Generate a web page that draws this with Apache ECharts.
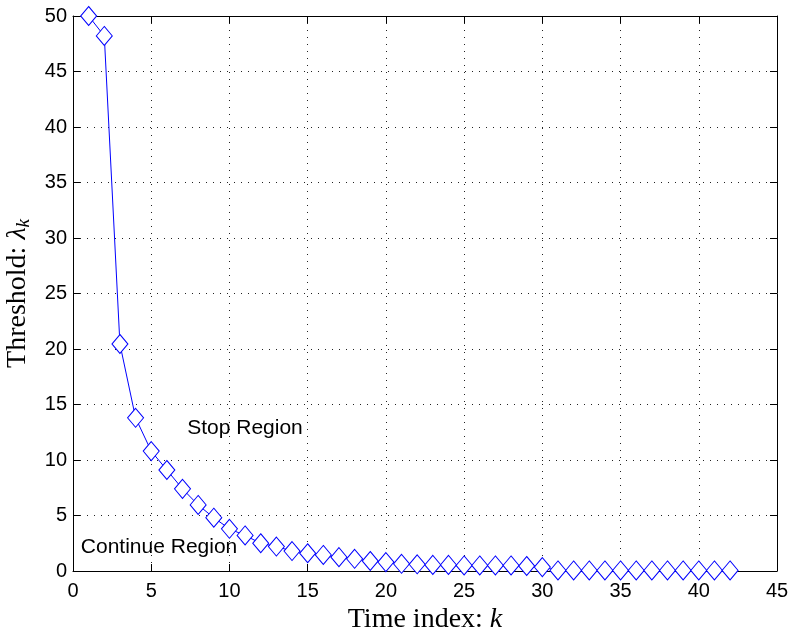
<!DOCTYPE html>
<html>
<head>
<meta charset="utf-8">
<script src="https://cdn.jsdelivr.net/npm/echarts@6/dist/echarts.min.js"></script>
<style>html,body{margin:0;padding:0;background:#fff;}#c{width:789px;height:628px;}</style>
</head>
<body>
<div id="c"></div>
<script>
var kValues = [1,2,3,4,5,6,7,8,9,10,11,12,13,14,15,16,17,18,19,20,21,22,23,24,25,26,27,28,29,30,31,32,33,34,35,36,37,38,39,40,41,42];
var thresholdValues = [50,48.2,20.45,13.8,10.8,9.1,7.4,5.95,4.8,3.8,3.2,2.5,2.2,1.8,1.6,1.45,1.25,1.1,0.9,0.8,0.65,0.6,0.55,0.55,0.5,0.5,0.5,0.5,0.45,0.35,0.05,0.05,0.05,0.05,0.05,0.05,0.05,0.05,0.05,0.05,0.05,0.05];
var xTicks = [0,5,10,15,20,25,30,35,40,45];
var yTicks = [0,5,10,15,20,25,30,35,40,45,50];
var annotations = [
  {text: 'Stop Region', x: 7.3, y: 12.9},
  {text: 'Continue Region', x: 0.5, y: 2.15}
];

var chart = echarts.init(document.getElementById('c'), null, {renderer: 'canvas'});
var tickFont = {fontFamily: 'Liberation Sans', fontSize: 20, color: '#000'};
var serif = 'Liberation Serif';
var points = kValues.map(function (k, i) { return [k, thresholdValues[i]]; });

var option = {
  animation: false,
  backgroundColor: '#fff',
  grid: {left: 73, right: 12, top: 16, bottom: 57, containLabel: false, outerBoundsMode: 'none'},
  xAxis: [{
    type: 'value', min: xTicks[0], max: xTicks[xTicks.length - 1], interval: 5,
    position: 'bottom',
    axisLine: {show: true, onZero: false, lineStyle: {color: '#000', width: 1}},
    axisTick: {show: true, inside: true, length: 7, lineStyle: {color: '#000'}},
    axisLabel: Object.assign({margin: 10}, tickFont),
    splitLine: {show: true, lineStyle: {color: '#222', type: [1, 6], width: 1}},
    name: 'Time index: {i|k}', nameLocation: 'middle', nameGap: 28,
    nameTextStyle: {fontFamily: serif, fontSize: 28, color: '#000',
      rich: {i: {fontFamily: serif, fontStyle: 'italic', fontSize: 28, color: '#000'}}}
  }, {
    type: 'value', min: xTicks[0], max: xTicks[xTicks.length - 1], interval: 5,
    position: 'top',
    axisLine: {show: true, onZero: false, lineStyle: {color: '#000', width: 1}},
    axisTick: {show: true, inside: true, length: 7, lineStyle: {color: '#000'}},
    axisLabel: {show: false}, splitLine: {show: false}
  }],
  yAxis: [{
    type: 'value', min: yTicks[0], max: yTicks[yTicks.length - 1], interval: 5,
    position: 'left',
    axisLine: {show: true, onZero: false, lineStyle: {color: '#000', width: 1}},
    axisTick: {show: true, inside: true, length: 7, lineStyle: {color: '#000'}},
    axisLabel: Object.assign({margin: 6}, tickFont),
    splitLine: {show: true, lineStyle: {color: '#222', type: [1, 6], width: 1}},
    name: 'Threshold: {l|λ}{s|k}', nameLocation: 'middle', nameGap: 37,
    nameTextStyle: {fontFamily: serif, fontSize: 28, color: '#000',
      rich: {
        l: {fontFamily: serif, fontStyle: 'italic', fontSize: 28, color: '#000'},
        s: {fontFamily: serif, fontStyle: 'italic', fontSize: 19, color: '#000', padding: [13, 0, 0, 0]}
      }}
  }, {
    type: 'value', min: yTicks[0], max: yTicks[yTicks.length - 1], interval: 5,
    position: 'right',
    axisLine: {show: true, onZero: false, lineStyle: {color: '#000', width: 1}},
    axisTick: {show: true, inside: true, length: 7, lineStyle: {color: '#000'}},
    axisLabel: {show: false}, splitLine: {show: false}
  }],
  series: [{
    type: 'line',
    data: points,
    xAxisIndex: 0, yAxisIndex: 0,
    symbol: 'diamond', symbolSize: [16, 19],
    showAllSymbol: true,
    lineStyle: {color: '#0000ff', width: 1},
    itemStyle: {color: '#fff', borderColor: '#0000ff', borderWidth: 1},
    z: 3
  }]
};
chart.setOption(option);

var g = annotations.map(function (a) {
  var p = chart.convertToPixel({xAxisIndex: 0, yAxisIndex: 0}, [a.x, a.y]);
  return {
    type: 'text', x: p[0], y: p[1], z: 10,
    style: {text: a.text, fill: '#000', font: '21px "Liberation Sans"', textAlign: 'left', textVerticalAlign: 'middle'}
  };
});
chart.setOption({graphic: g});
</script>
</body>
</html>
